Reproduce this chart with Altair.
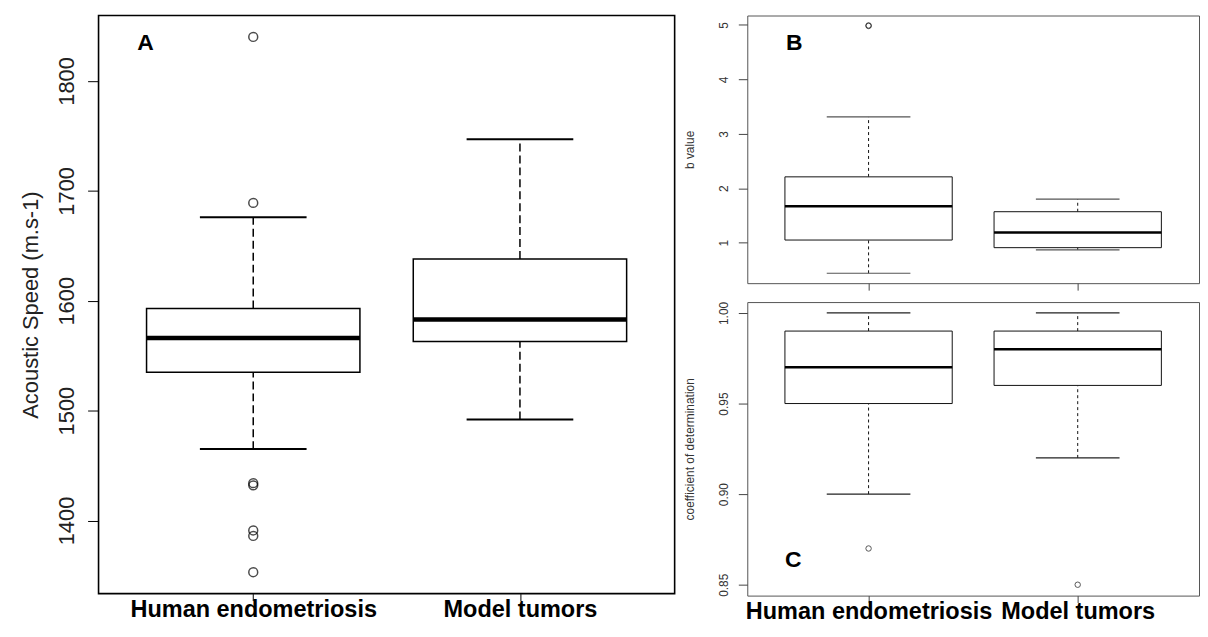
import altair as alt
import pandas as pd

groups = ["Human endometriosis", "Model tumors"]

# Panel A: acoustic speed (m.s-1)
a_low = [1465, 1492]
a_q1 = [1535, 1563]
a_med = [1566, 1583]
a_q3 = [1593, 1638]
a_high = [1676, 1747]
a_out_group = ["Human endometriosis"] * 7
a_out_val = [1840, 1689, 1434, 1432, 1391, 1386, 1353]
a_ticks = [1400, 1500, 1600, 1700, 1800]

# Panel B: b value
b_low = [0.44, 0.87]
b_q1 = [1.05, 0.91]
b_med = [1.67, 1.19]
b_q3 = [2.21, 1.57]
b_high = [3.31, 1.80]
b_out_group = ["Human endometriosis", "Human endometriosis"]
b_out_val = [4.99, 4.98]
b_ticks = [1, 2, 3, 4, 5]

# Panel C: coefficient of determination
c_low = [0.90, 0.92]
c_q1 = [0.95, 0.96]
c_med = [0.97, 0.98]
c_q3 = [0.99, 0.99]
c_high = [1.00, 1.00]
c_out_group = ["Human endometriosis", "Model tumors"]
c_out_val = [0.87, 0.85]
c_ticks = [0.85, 0.90, 0.95, 1.00]

FONT = "Liberation Sans"


def label_expr():
    expr = "'" + groups[-1] + "'"
    for i in range(len(groups) - 2, -1, -1):
        expr = "datum.value == %d ? '%s' : " % (i + 1, groups[i]) + expr
    return expr


def y_range(low, high, outs):
    vals = list(low) + list(high) + list(outs)
    lo, hi = min(vals), max(vals)
    pad = 0.04 * (hi - lo)
    return [lo - pad, hi + pad]


def panel(low, q1, med, q3, high, out_group, out_val, w, h, s):
    n = len(groups)
    box_df = pd.DataFrame({"group": groups, "pos": list(range(1, n + 1)),
                           "low": low, "q1": q1, "med": med, "q3": q3, "high": high})
    out_df = pd.DataFrame({"group": out_group, "val": out_val})
    out_df["pos"] = [groups.index(g) + 1 for g in out_group]
    xdom = [0.5 - 0.04 * n, n + 0.5 + 0.04 * n]
    ydom = y_range(low, high, out_val)
    xs = alt.Scale(domain=xdom, nice=False, zero=False)
    ys = alt.Scale(domain=ydom, nice=False, zero=False)
    xaxis = alt.Axis(values=list(range(1, n + 1)), labelExpr=label_expr(), labels=s["xlabels"],
                     domain=False, grid=False, ticks=True, tickSize=7, tickColor=s["tick"],
                     labelFont=FONT, labelFontSize=23.6, labelFontWeight="bold", labelColor="black",
                     labelBaseline="alphabetic", labelPadding=16, labelLimit=500, title=None)
    yaxis = alt.Axis(values=s["yvalues"], format=s["yformat"], labelAngle=270, labelAlign="center",
                     labelBaseline="bottom", domain=False, grid=False, tickSize=s["ytick"],
                     tickColor=s["tick"], labelFont=FONT, labelFontSize=s["ylab_fs"],
                     labelColor=s["labcol"], labelPadding=s["ylab_pad"], title=s["ytitle"],
                     titleFont=FONT, titleFontSize=s["ytitle_fs"], titleFontWeight="normal",
                     titleColor=s["titcol"], titlePadding=s["ytitle_pad"])
    base = alt.Chart(box_df).transform_calculate(
        lo="datum.pos - 0.4", hi="datum.pos + 0.4",
        clo="datum.pos - 0.2", chi="datum.pos + 0.2")
    xn = lambda f: alt.X(f, scale=xs, axis=xaxis)
    yn = lambda f: alt.Y(f, scale=ys, axis=yaxis)
    whisk_hi = base.mark_rule(color=s["line"], strokeWidth=s["lw"], strokeDash=s["dash"]).encode(
        x=xn("pos:Q"), y=yn("q3:Q"), y2="high:Q")
    whisk_lo = base.mark_rule(color=s["line"], strokeWidth=s["lw"], strokeDash=s["dash"]).encode(
        x=xn("pos:Q"), y=yn("low:Q"), y2="q1:Q")
    cap_hi = base.mark_rule(color=s["cap"], strokeWidth=s["capw"]).encode(
        x=xn("clo:Q"), x2="chi:Q", y=yn("high:Q"))
    cap_lo = base.mark_rule(color=s["cap"], strokeWidth=s["capw"]).encode(
        x=xn("clo:Q"), x2="chi:Q", y=yn("low:Q"))
    box = base.mark_rect(fill="white", stroke=s["line"], strokeWidth=s["lw"]).encode(
        x=xn("lo:Q"), x2="hi:Q", y=yn("q1:Q"), y2="q3:Q")
    median = base.mark_rule(color="black", strokeWidth=s["medw"]).encode(
        x=xn("lo:Q"), x2="hi:Q", y=yn("med:Q"))
    outs = alt.Chart(out_df).mark_point(shape="circle", filled=False, color=s["line"],
                                       strokeWidth=s["lw"], size=s["osize"]).encode(
        x=xn("pos:Q"), y=yn("val:Q"))
    title = alt.TitleParams(s["letter"], anchor="start", orient="top", frame="group", offset=0,
                            baseline="alphabetic", dx=s["ldx"], dy=s["ldy"], font=FONT,
                            fontSize=23, fontWeight="bold", color="black")
    return alt.layer(whisk_hi, whisk_lo, cap_hi, cap_lo, box, median, outs).properties(
        width=w, height=h, title=title,
        view=alt.ViewBackground(stroke=s["frame"], strokeWidth=s["framew"]))


sa = dict(xlabels=True, tick="black", yvalues=a_ticks, yformat="d", ytick=11, ylab_fs=22,
          labcol="#222222", ylab_pad=9, ytitle="Acoustic Speed (m.s-1)", ytitle_fs=22,
          titcol="#222222", ytitle_pad=13, line="black", lw=1.5, dash=[8, 4], cap="black",
          capw=2, medw=4.5, osize=80, letter="A", ldx=39, ldy=58, frame="black", framew=1.6)
sb = dict(xlabels=False, tick="#444444", yvalues=b_ticks, yformat="d", ytick=9, ylab_fs=12,
          labcol="#333333", ylab_pad=8, ytitle="b value", ytitle_fs=12,
          titcol="#333333", ytitle_pad=21, line="#111111", lw=1, dash=[3, 3], cap="#555555",
          capw=1.2, medw=2.5, osize=30, letter="B", ldx=39, ldy=58, frame="#555555", framew=1)
sc = dict(xlabels=True, tick="#444444", yvalues=c_ticks, yformat=".2f", ytick=9, ylab_fs=12,
          labcol="#333333", ylab_pad=8, ytitle="coefficient of determination", ytitle_fs=12,
          titcol="#333333", ytitle_pad=21, line="#111111", lw=1, dash=[3, 3], cap="#222222",
          capw=1.2, medw=2.5, osize=30, letter="C", ldx=38, ldy=290, frame="#555555", framew=1)

pa = panel(a_low, a_q1, a_med, a_q3, a_high, a_out_group, a_out_val, 579, 581, sa)
pb = panel(b_low, b_q1, b_med, b_q3, b_high, b_out_group, b_out_val, 454, 269, sb)
pc = panel(c_low, c_q1, c_med, c_q3, c_high, c_out_group, c_out_val, 454, 295, sc)

right = alt.vconcat(pb, pc, spacing=9)
chart = alt.hconcat(pa, right, spacing=7).properties(
    padding={"left": 11, "top": 5, "right": 0, "bottom": 0}
).configure(background="white")

chart.save("out.html", embed_options={"renderer": "svg", "actions": False})
